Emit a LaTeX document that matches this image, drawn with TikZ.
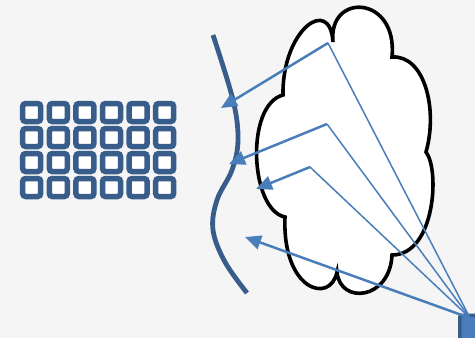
\documentclass[tikz,border=0pt]{standalone}
\usetikzlibrary{arrows.meta}
\definecolor{bg}{RGB}{245,245,245}
\definecolor{dkblue}{RGB}{56,93,138}
\definecolor{ltblue}{RGB}{74,126,187}
\begin{document}
\begin{tikzpicture}[x=1pt,y=-1pt,
  cell/.style={draw=dkblue,line width=5.5pt,fill=white,rounded corners=3pt,minimum size=18pt,inner sep=0pt},
  ray/.style={ltblue,line width=1.5pt},
  beam/.style={ltblue,line width=2.5pt,-{Triangle[length=16pt,width=14pt]}},
  wall/.style={dkblue,line width=4.8pt},
  cloudline/.style={draw=black,line width=3.6pt,fill=white}
  ]
\fill[bg] (0,0) rectangle (475,338);
\useasboundingbox (0,0) rectangle (475,338);
% grid of cells
\foreach \i in {0,...,5}{
  \foreach \j in {0,...,3}{
    \node[cell] (g\i\j) at ({31.7+26.6*\i},{112.5+25*\j}) {};
  }
}
% cloud
\draw[cloudline] (333,42) .. controls (328,-8) and (398,-5) .. (392,57)
  .. controls (425,55) and (438,110) .. (426,152)
  .. controls (440,170) and (435,255) .. (392,255)
  .. controls (390,300) and (340,305) .. (337,272)
  .. controls (330,305) and (282,290) .. (285,217)
  .. controls (250,210) and (245,105) .. (283,95)
  .. controls (282,30) and (330,-5) .. (333,42) -- cycle;
% wall curve
\draw[wall] plot[smooth,tension=0.6] coordinates {(213,35) (233,100) (238,140) (232,170) (217,200) (213,230) (225,262) (247,293)};
% source
\node[draw=dkblue,fill=ltblue,line width=3.5pt,rounded corners=2pt,minimum width=24pt,minimum height=26pt,anchor=north west,inner sep=0pt] (src) at (458,313.5) {};
\coordinate (s) at (470,318);
\coordinate (c1) at (328,43);
\coordinate (c2) at (327,124);
\coordinate (c3) at (310,167);
\coordinate (t1) at (221,108);
\coordinate (t2) at (229,164);
\coordinate (t3) at (256,189);
\coordinate (t4) at (245,237);
\draw[ray] (s) -- (c1);
\draw[ray] (s) -- (c2);
\draw[ray] (s) -- (c3);
\draw[beam] (c1) -- (t1);
\draw[beam] (c2) -- (t2);
\draw[beam] (c3) -- (t3);
\draw[beam] (s) -- (t4);
\end{tikzpicture}
\end{document}
